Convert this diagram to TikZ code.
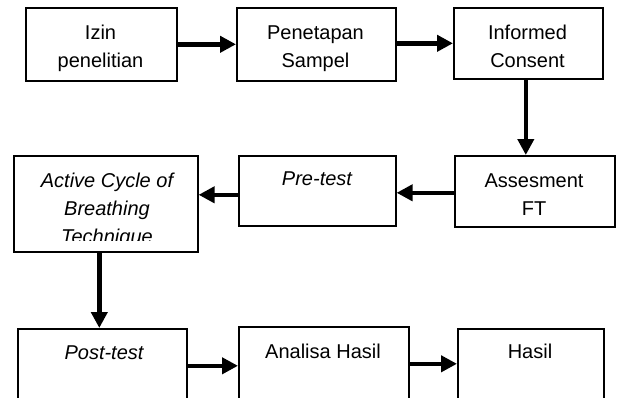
\documentclass[tikz,border=0pt]{standalone}
\usepackage{fontspec}
\setmainfont{Liberation Sans}
\usetikzlibrary{arrows.meta}
\newcommand{\boxlines}[1]{\begin{tabular}[t]{@{}c@{}}#1\end{tabular}}
\begin{document}
\begin{tikzpicture}[x=1pt,y=-1pt,
  box/.style={draw, line width=1.6pt, anchor=north west, inner sep=0pt},
  lbl/.style={anchor=base, inner sep=0pt, font=\fontsize{20}{28}\selectfont},
  arr/.style={line width=4.5pt, -{Triangle[length=16pt,width=16pt]}},
  shade/.style={line width=4.5pt, black!18, opacity=0.6, -{Triangle[length=16pt,width=16pt]}}]
\useasboundingbox (0,0) rectangle (617,397);
\clip (0,0) rectangle (617,397);
% boxes
\node[box, minimum width=151pt, minimum height=73pt] (b1) at (25,7) {};
\node[box, minimum width=159pt, minimum height=73pt] (b2) at (236,7) {};
\node[box, minimum width=149pt, minimum height=71pt] (b3) at (453,7) {};
\node[box, minimum width=160pt, minimum height=71pt] (b4) at (454,155) {};
\node[box, minimum width=157pt, minimum height=70pt] (b5) at (238,155) {};
\node[box, minimum width=184pt, minimum height=96pt] (b6) at (13,155) {};
\node[box, minimum width=169pt, minimum height=80pt] (b7) at (17,328) {};
\node[box, minimum width=170pt, minimum height=80pt] (b8) at (238,326) {};
\node[box, minimum width=146pt, minimum height=80pt] (b9) at (457,328) {};
% texts
\node[lbl] (t1) at (100.5,39) {\boxlines{Izin\\penelitian}};
\node[lbl] (t2) at (315.5,39) {\boxlines{Penetapan\\Sampel}};
\node[lbl] (t3) at (527.5,39) {\boxlines{Informed\\Consent}};
\node[lbl] (t4) at (534,187) {\boxlines{Assesment\\FT}};
\node[lbl] (t5) at (317,185) {\itshape Pre-test};
\begin{scope}
\clip (15,157) rectangle (195,240);
\node[lbl] (t6) at (107,187) {\itshape\boxlines{Active Cycle of\\Breathing\\Technique}};
\end{scope}
\node[lbl] (t7) at (104,359) {\itshape Post-test};
\node[lbl] (t8) at (323,358) {Analisa Hasil};
\node[lbl] (t9) at (530,358) {Hasil};
% connectors
\draw[arr] (b1.east) -- (b2.west);
\draw[arr] ([yshift=1pt]b2.east) -- ([yshift=1pt]b2.east -| b3.west);
\draw[arr] ([xshift=-2.5pt]b3.south) -- ([xshift=-2.5pt]b3.south |- b4.north);
\draw[arr] ([yshift=-1.5pt]b4.west) -- ([yshift=-1.5pt]b4.west -| b5.east);
\draw[arr] ([yshift=-4pt]b5.west) -- ([yshift=-4pt]b5.west -| b6.east);
\draw[arr] ([xshift=-6.5pt]b6.south) -- ([xshift=-6.5pt]b6.south |- b7.north);
\draw[arr] ([yshift=3pt]b7.east) -- ([yshift=3pt]b7.east -| b8.west);
\draw[arr] ([yshift=3pt]b8.east) -- ([yshift=3pt]b8.east -| b9.west);
\end{tikzpicture}
\end{document}
